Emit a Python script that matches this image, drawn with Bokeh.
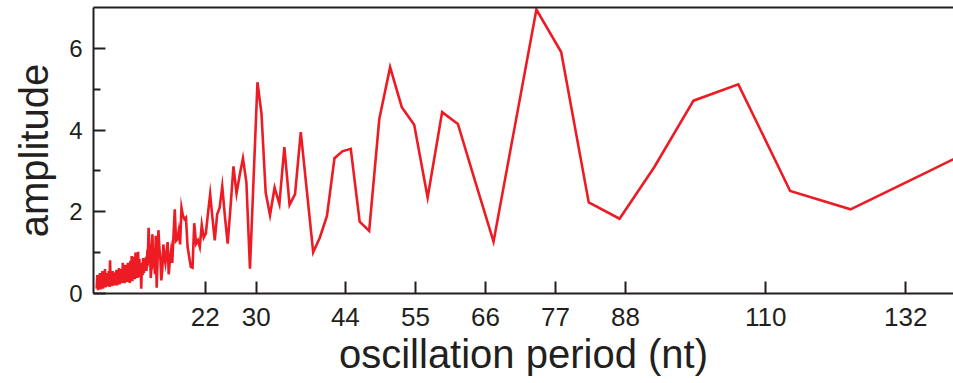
from bokeh.plotting import figure
from bokeh.models import Range1d, FixedTicker, LinearAxis
from bokeh.embed import file_html
from bokeh.resources import INLINE

# --- data ---
# dense short-period region (period in nt, amplitude)
periods_dense = [4.95, 5.05, 5.15, 5.25, 5.35, 5.45, 5.55, 5.65, 5.75, 5.85,
                 5.95, 6.05, 6.15, 6.25, 6.35, 6.45, 6.55, 6.65, 6.75, 6.85,
                 6.95, 7.05, 7.15, 7.25, 7.35, 7.45, 7.55, 7.65, 7.75, 7.85,
                 7.95, 8.05, 8.15, 8.25, 8.35, 8.45, 8.55, 8.65, 8.75, 8.85,
                 8.95, 9.05, 9.15, 9.25, 9.35, 9.45, 9.55, 9.65, 9.75, 9.85,
                 9.95, 10.05, 10.15, 10.25, 10.35, 10.45, 10.55, 10.65, 10.75, 10.85,
                 10.95, 11.05, 11.15, 11.25, 11.35, 11.45, 11.55, 11.65, 11.75, 11.85,
                 11.95, 12.05, 12.15, 12.25, 12.35, 12.45]
amps_dense = [0.12, 0.45, 0.08, 0.38, 0.15, 0.50, 0.10, 0.42, 0.20, 0.55,
              0.12, 0.48, 0.22, 0.60, 0.15, 0.50, 0.18, 0.45, 0.20, 0.55,
              0.16, 0.81, 0.25, 0.50, 0.18, 0.55, 0.22, 0.48, 0.20, 0.52,
              0.25, 0.58, 0.20, 0.50, 0.28, 0.62, 0.22, 0.55, 0.30, 0.60,
              0.25, 0.75, 0.30, 0.65, 0.25, 0.70, 0.35, 0.60, 0.28, 0.75,
              0.30, 0.70, 0.26, 0.80, 0.35, 0.92, 0.30, 0.85, 0.40, 0.90,
              0.35, 1.00, 0.45, 0.95, 0.38, 1.02, 0.50, 0.85, 0.40, 0.70,
              0.12, 0.75, 0.45, 0.87, 0.50, 0.80]

periods_mid = [12.65, 12.76, 12.87, 12.98, 13.10, 13.21, 13.33, 13.45, 13.58, 13.70,
               13.83, 13.96, 14.10, 14.23, 14.37, 14.51, 14.65, 14.80, 14.95, 15.10,
               15.26, 15.42, 15.58, 15.74, 15.91, 16.09, 16.26, 16.44, 16.63, 16.82,
               17.01, 17.21, 17.41, 17.62, 17.83, 18.05, 18.27, 18.50, 18.73, 18.97,
               19.22, 19.47, 19.73, 20.00, 20.27, 20.56, 20.85, 21.14, 21.45, 21.76]
amps_mid = [0.85, 0.55, 0.90, 0.84, 1.61, 1.20, 1.00, 0.38, 0.90, 1.45,
            0.80, 0.90, 0.47, 1.41, 0.14, 0.80, 1.55, 1.10, 0.87, 0.32,
            0.60, 1.20, 0.90, 0.75, 1.00, 1.26, 0.47, 0.80, 1.04, 0.75,
            1.40, 2.06, 1.29, 1.33, 1.53, 1.20, 2.10, 1.90, 1.82, 1.86,
            1.15, 0.90, 0.65, 0.63, 1.72, 1.22, 1.30, 1.14, 1.68, 1.37]

periods_long = [22.09, 22.42, 22.77, 23.13, 23.49, 23.87, 24.26, 24.67, 25.08, 25.52,
                25.96, 26.43, 26.91, 27.41, 27.92, 28.46, 29.02, 29.60, 30.20, 30.83,
                31.49, 32.17, 32.89, 33.64, 34.42, 35.24, 36.10, 37.00, 37.95, 38.95,
                40.00, 41.11, 42.29, 43.53, 44.85, 46.25, 47.74, 49.33, 51.03, 52.86,
                54.81, 56.92, 59.20, 61.67, 64.35, 67.27, 70.48, 74.00, 77.89, 82.22,
                87.06, 92.50, 98.67, 105.71, 113.85, 123.33, 134.55, 148.00]
amps_long = [1.47, 1.95, 2.43, 1.85, 1.30, 1.94, 2.10, 2.62, 1.90, 1.22,
             2.10, 3.11, 2.45, 2.90, 3.31, 2.72, 0.61, 2.85, 5.17, 4.40,
             2.47, 1.92, 2.59, 2.19, 3.58, 2.17, 2.43, 3.95, 2.52, 1.01,
             1.37, 1.90, 3.31, 3.48, 3.54, 1.76, 1.53, 4.27, 5.54, 4.56,
             4.13, 2.35, 4.44, 4.15, 2.76, 1.27, 3.98, 6.95, 5.91, 2.23,
             1.83, 3.09, 4.72, 5.12, 2.51, 2.06, 2.91, 3.94]

x_ticks = [22, 30, 44, 55, 66, 77, 88, 110, 132]
y_ticks = [0, 2, 4, 6]
y_minor = [1, 3, 5]

periods = periods_dense + periods_mid + periods_long
amplitude = amps_dense + amps_mid + amps_long

INK = "#231f20"
RED = "#ed1c24"
FONT = "Liberation Sans"

p = figure(width=953, height=383, output_backend="svg", toolbar_location=None,
           x_range=Range1d(4.45, 139.5), y_range=Range1d(0, 7),
           min_border_left=93, min_border_right=0, min_border_top=7,
           min_border_bottom=90)
p.outline_line_color = None
p.xgrid.visible = False
p.ygrid.visible = False
p.background_fill_color = "white"
p.border_fill_color = "white"

p.line(periods, amplitude, line_color=RED, line_width=2.6, line_join="miter")

xa = p.xaxis[0]
xa.ticker = FixedTicker(ticks=x_ticks, minor_ticks=[])
xa.axis_label = "oscillation period (nt)"
xa.major_label_standoff = 14
xa.axis_label_standoff = 3
xa.major_label_text_font_size = "26px"

ya = p.yaxis[0]
ya.ticker = FixedTicker(ticks=y_ticks, minor_ticks=y_minor)
ya.axis_label = "amplitude"
ya.major_label_standoff = 11
ya.axis_label_standoff = 10
ya.major_label_text_font_size = "24px"

for ax in (xa, ya):
    ax.axis_line_color = INK
    ax.axis_line_width = 2
    ax.major_tick_line_color = INK
    ax.major_tick_line_width = 2
    ax.major_tick_in = 12
    ax.major_tick_out = 0
    ax.minor_tick_line_color = INK
    ax.minor_tick_line_width = 2
    ax.minor_tick_in = 7
    ax.minor_tick_out = 0
    ax.major_label_text_font = FONT
    ax.major_label_text_color = INK
    ax.axis_label_text_font = FONT
    ax.axis_label_text_font_style = "normal"
    ax.axis_label_text_font_size = "40px"
    ax.axis_label_text_color = INK

top = LinearAxis(ticker=FixedTicker(ticks=[], minor_ticks=[]),
                 axis_line_color=INK, axis_line_width=2,
                 major_tick_line_color=None, minor_tick_line_color=None,
                 major_label_text_font_size="0px", major_label_standoff=0)
p.add_layout(top, "above")

open("out.html", "w").write(file_html(p, INLINE))
